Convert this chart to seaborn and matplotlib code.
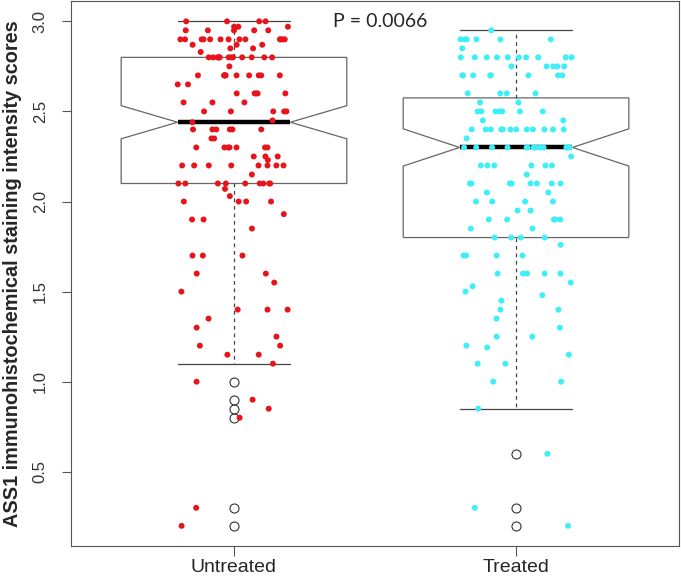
import numpy as np
import pandas as pd
import matplotlib
matplotlib.use("Agg")
import matplotlib.pyplot as plt
import seaborn as sns

# ---- data ----
groups = ["Untreated", "Treated"]

untreated_levels = [3.00, 2.97, 2.95, 2.90, 2.87, 2.85, 2.83, 2.80, 2.75, 2.70,
                    2.65, 2.60, 2.55, 2.50, 2.45, 2.44, 2.40, 2.35, 2.30, 2.25,
                    2.23, 2.20, 2.15, 2.10, 2.07, 2.03, 2.00, 1.93, 1.90, 1.85,
                    1.70, 1.60, 1.55, 1.50, 1.40, 1.35, 1.30, 1.25, 1.20, 1.15,
                    1.10, 1.00, 0.90, 0.85, 0.80, 0.30, 0.20]
untreated_counts = [4, 3, 5, 13, 3, 2, 1, 13, 1, 10,
                    2, 5, 3, 5, 1, 1, 6, 2, 7, 3,
                    1, 8, 1, 9, 1, 1, 4, 1, 2, 1,
                    3, 2, 1, 1, 3, 1, 1, 1, 2, 2,
                    1, 1, 1, 1, 1, 1, 1]

treated_levels = [2.95, 2.90, 2.85, 2.80, 2.75, 2.70, 2.60, 2.55, 2.50, 2.45,
                  2.40, 2.35, 2.30, 2.25, 2.20, 2.15, 2.10, 2.05, 2.00, 1.95,
                  1.90, 1.85, 1.80, 1.76, 1.70, 1.60, 1.55, 1.53, 1.50, 1.48,
                  1.45, 1.40, 1.35, 1.30, 1.25, 1.20, 1.19, 1.15, 1.10, 1.00,
                  0.85, 0.60, 0.30, 0.20]
treated_counts = [1, 6, 1, 10, 5, 8, 4, 2, 7, 2,
                  12, 1, 13, 1, 6, 1, 8, 2, 4, 2,
                  5, 2, 4, 1, 4, 5, 1, 1, 1, 1,
                  1, 2, 1, 1, 2, 1, 1, 1, 2, 2,
                  1, 1, 1, 1]

y_ticks = [0.5, 1.0, 1.5, 2.0, 2.5, 3.0]
y_label = "ASS1 immunohistochemical staining intensity scores"
p_text = "P = 0.0066"
point_colors = {"Untreated": "#E8141C", "Treated": "#3EEFF8"}

untreated = np.repeat(untreated_levels, untreated_counts)
treated = np.repeat(treated_levels, treated_counts)
df = pd.DataFrame({
    "group": ["Untreated"] * len(untreated) + ["Treated"] * len(treated),
    "score": np.concatenate([untreated, treated]),
})

# ---- style ----
sns.set_theme(style="ticks")
plt.rcParams["font.family"] = ["Liberation Sans", "DejaVu Sans"]

fig = plt.figure(figsize=(6.81, 5.77), dpi=100)
ax = fig.add_axes([0.1038, 0.0537, 0.8933, 0.9443])

sns.boxplot(data=df, x="group", y="score", order=groups, ax=ax,
            width=0.8, color="white", linecolor="#666666", linewidth=0.9,
            whis=1.5, shownotches=True, fliersize=6.5,
            medianprops=dict(color="black", linewidth=3.2),
            whiskerprops=dict(linestyle=(0, (3, 3)), color="#444444"),
            capprops=dict(color="#444444"),
            flierprops=dict(marker="o", markerfacecolor="none",
                            markeredgecolor="#333333", markeredgewidth=0.8))

np.random.seed(7)
sns.stripplot(data=df, x="group", y="score", order=groups, hue="group",
              palette=point_colors, jitter=0.2, size=4.3, linewidth=0,
              legend=False, ax=ax, zorder=3)

ax.set_xlim(-0.579, 1.578)
ax.set_ylim(0.088, 3.112)
ax.set_yticks(y_ticks)
ax.set_yticklabels([f"{v:.1f}" for v in y_ticks])
ax.set_xlabel("")
ax.set_ylabel(y_label, fontsize=14.3, fontweight="bold")
ax.yaxis.set_label_coords(-0.080, 0.5)

for s in ax.spines.values():
    s.set_visible(True)
    s.set_color("#555555")
    s.set_linewidth(0.8)

ax.tick_params(axis="y", length=6.5, width=0.8, color="#555555", pad=10,
               labelsize=12, labelcolor="#333333")
ax.tick_params(axis="x", length=7.2, width=0.8, color="#555555", pad=2,
               labelsize=14)
for lab in ax.get_yticklabels():
    lab.set_rotation(90)
    lab.set_va("center")

ax.text(0.518, 3.0, p_text, fontsize=14, family=["Lato", "DejaVu Sans"],
        ha="center", va="center")

fig.savefig("out.png", dpi=100)
